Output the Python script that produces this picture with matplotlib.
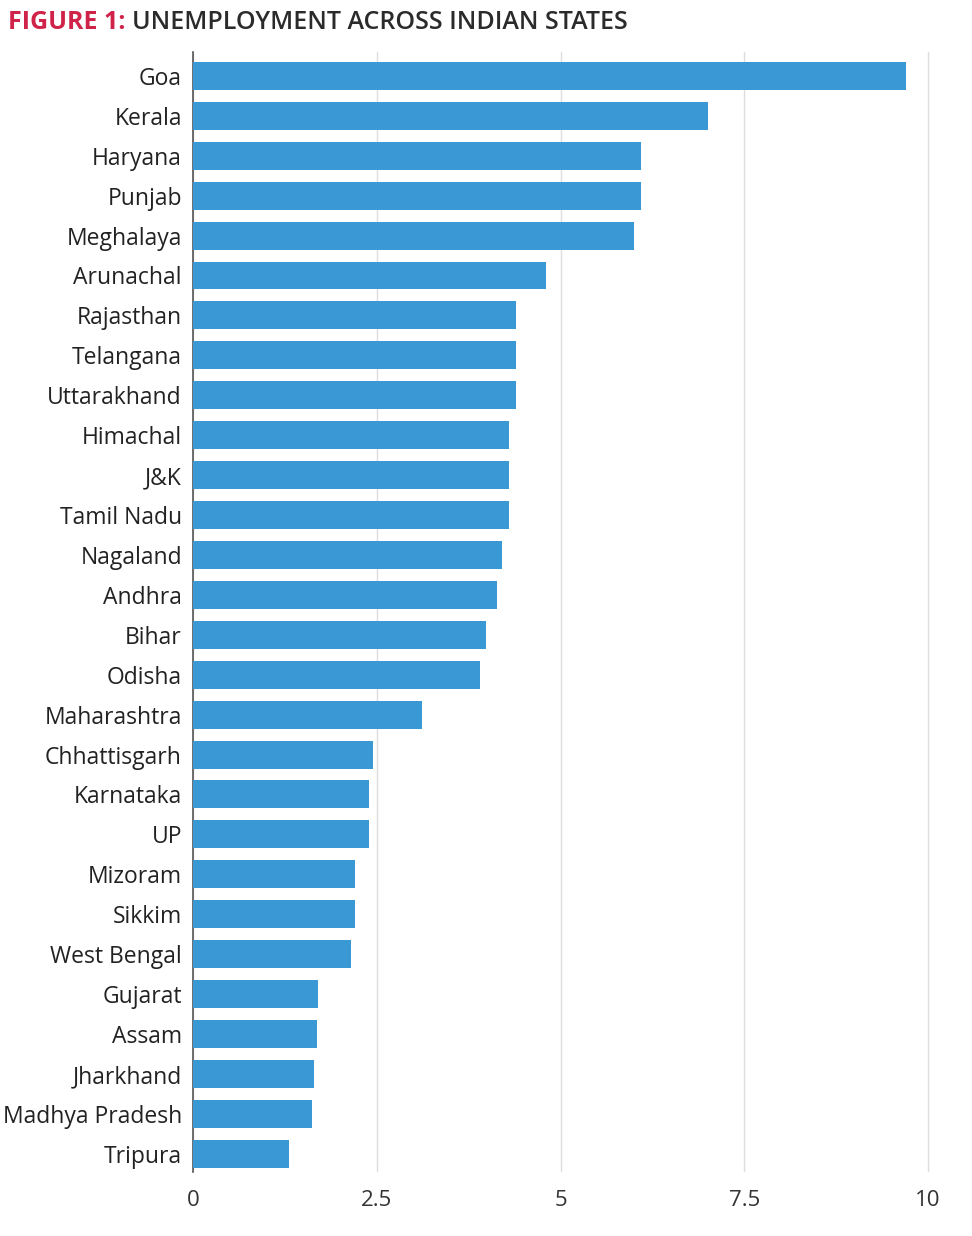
import matplotlib.pyplot as plt

plt.rcParams['font.family'] = ['Open Sans', 'DejaVu Sans']

# Unemployment rate (%) by state
states = ['Goa', 'Kerala', 'Haryana', 'Punjab', 'Meghalaya', 'Arunachal',
          'Rajasthan', 'Telangana', 'Uttarakhand', 'Himachal', 'J&K',
          'Tamil Nadu', 'Nagaland', 'Andhra', 'Bihar', 'Odisha', 'Maharashtra',
          'Chhattisgarh', 'Karnataka', 'UP', 'Mizoram', 'Sikkim', 'West Bengal',
          'Gujarat', 'Assam', 'Jharkhand', 'Madhya Pradesh', 'Tripura']
rates = [9.7, 7.0, 6.1, 6.1, 6.0, 4.8, 4.4, 4.4, 4.4, 4.3, 4.3, 4.3, 4.2,
         4.13, 3.98, 3.9, 3.12, 2.45, 2.4, 2.4, 2.2, 2.2, 2.15, 1.7, 1.68, 1.65,
         1.62, 1.3]
xticks = [0, 2.5, 5, 7.5, 10]
xticklabels = ['0', '2.5', '5', '7.5', '10']

fig = plt.figure(figsize=(9.72, 12.36), dpi=100)
ax = fig.add_axes([0.1986, 0.052, 0.76, 0.906])

ypos = range(len(states))
ax.barh(ypos, rates, height=0.7, color='#3a99d4', zorder=3)

ax.set_yticks(list(ypos))
ax.set_yticklabels(states, fontsize=16.5, color='#222222')
ax.set_ylim(len(states) - 0.55, -0.6)
ax.set_xlim(0, 10.05)
ax.set_xticks(xticks)
ax.set_xticklabels(xticklabels, fontsize=16, color='#333333')
ax.tick_params(axis='both', length=0)
ax.tick_params(axis='y', pad=8)
ax.tick_params(axis='x', pad=13)

ax.grid(axis='x', color='#dddddd', linewidth=1, zorder=0)
for side in ['top', 'right', 'bottom']:
    ax.spines[side].set_visible(False)
ax.spines['left'].set_color('#555555')
ax.spines['left'].set_linewidth(1.2)

# Two-colour title
t1 = fig.text(0.008, 0.982, 'FIGURE 1: ', fontsize=18, fontweight='bold',
              color='#d0234a', va='center', ha='left')
fig.canvas.draw()
bb = t1.get_window_extent()
x2 = bb.x1 / fig.bbox.width
fig.text(x2, 0.982, 'UNEMPLOYMENT ACROSS INDIAN STATES', fontsize=18,
         fontweight='semibold', color='#2b2b2b', va='center', ha='left')

fig.savefig('out.png', dpi=100, facecolor='white')
